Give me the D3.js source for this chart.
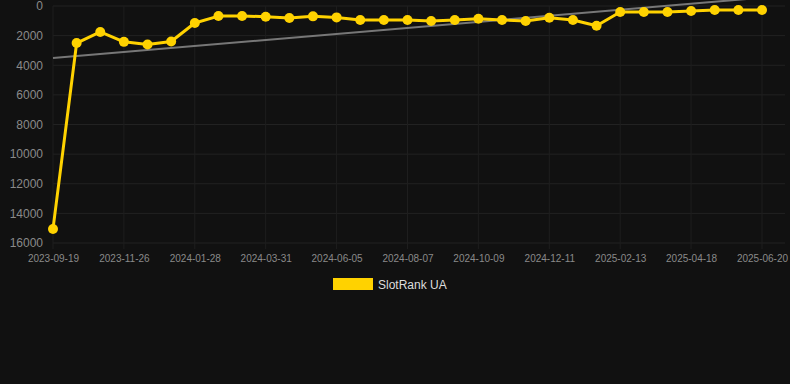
<!DOCTYPE html>
<html lang='en'>
<head>
<meta charset='utf8'>
<title>SlotRank UA</title>
<script src="https://cdn.jsdelivr.net/npm/d3@7/dist/d3.min.js"></script>
<style>
  html, body { margin: 0; padding: 0; background: #111111; }
  svg { display: block; font-family: 'Liberation Sans', Arial, sans-serif; }
</style>
</head>
<body>
<svg id='chart' width='790' height='384'></svg>
<script>
// category dates (labels shown every 3rd point)
var dates = [
  '2023-09-19', '2023-10-12', '2023-11-03', '2023-11-26', '2023-12-17', '2024-01-07',
  '2024-01-28', '2024-02-18', '2024-03-10', '2024-03-31', '2024-04-21', '2024-05-14',
  '2024-06-05', '2024-06-26', '2024-07-17', '2024-08-07', '2024-08-28', '2024-09-18',
  '2024-10-09', '2024-10-30', '2024-11-20', '2024-12-11', '2025-01-01', '2025-01-23',
  '2025-02-13', '2025-03-06', '2025-03-27', '2025-04-18', '2025-05-09', '2025-05-30',
  '2025-06-20'
];
var rank = [
  15050, 2500, 1750, 2420, 2600, 2400,
  1150, 680, 680, 720, 810, 700,
  770, 950, 950, 950, 1010, 950,
  860, 950, 1010, 790, 950, 1330,
  410, 410, 410, 340, 270, 270,
  270
];
var trendFrom = 3510, trendTo = -560;
var yTicks = [0, 2000, 4000, 6000, 8000, 10000, 12000, 14000, 16000];
var seriesName = 'SlotRank UA';

var svg = d3.select('#chart');
var plotLeft = 53, plotRight = 762, plotTop = 6, plotBottom = 243;

var x = d3.scalePoint().domain(dates).range([plotLeft, plotRight]);
var y = d3.scaleLinear().domain([0, 16000]).range([plotTop, plotBottom]);

// horizontal grid
svg.append('g').selectAll('line').data(yTicks).enter().append('line')
  .attr('x1', plotLeft).attr('x2', 785)
  .attr('y1', d => y(d)).attr('y2', d => y(d))
  .attr('stroke', '#222').attr('stroke-width', 1);

// vertical grid on labelled dates
var shown = dates.filter((d, i) => i % 3 == 0);
svg.append('g').selectAll('line').data(shown).enter().append('line')
  .attr('x1', d => x(d)).attr('x2', d => x(d))
  .attr('y1', plotTop).attr('y2', plotBottom + 6)
  .attr('stroke', '#1e1e1e').attr('stroke-width', 1);

// y axis labels
var yAxis = svg.append('g').attr('transform', 'translate(' + (plotLeft - 10) + ',0)')
  .call(d3.axisLeft(y).tickValues(yTicks).tickSize(0).tickPadding(0).tickFormat(d3.format('d')));
yAxis.select('.domain').remove();
yAxis.selectAll('text').attr('fill', '#8a8a8a').style('font-size', '12px');

// x axis labels
var xAxis = svg.append('g').attr('transform', 'translate(0,' + plotBottom + ')')
  .call(d3.axisBottom(x).tickValues(shown).tickSize(0).tickPadding(12));
xAxis.select('.domain').remove();
xAxis.selectAll('text').attr('fill', '#8a8a8a').style('font-size', '10px');

// trend line
svg.append('line')
  .attr('x1', x(dates[0])).attr('y1', y(trendFrom))
  .attr('x2', x(dates[dates.length - 1])).attr('y2', y(trendTo))
  .attr('stroke', '#777').attr('stroke-width', 2);

// series
svg.append('path').datum(rank)
  .attr('fill', 'none').attr('stroke', '#ffd200').attr('stroke-width', 3)
  .attr('stroke-linejoin', 'round')
  .attr('d', d3.line().x((d, i) => x(dates[i])).y(d => y(d)));

svg.append('g').selectAll('circle').data(rank).enter().append('circle')
  .attr('cx', (d, i) => x(dates[i])).attr('cy', d => y(d))
  .attr('r', 5).attr('fill', '#ffd200');

// legend
svg.append('rect').attr('x', 333).attr('y', 278).attr('width', 40).attr('height', 12)
  .attr('fill', '#ffd200');
svg.append('text').attr('x', 378).attr('y', 289).text(seriesName)
  .attr('fill', '#dddddd').style('font-size', '12px');
</script>
</body>
</html>
